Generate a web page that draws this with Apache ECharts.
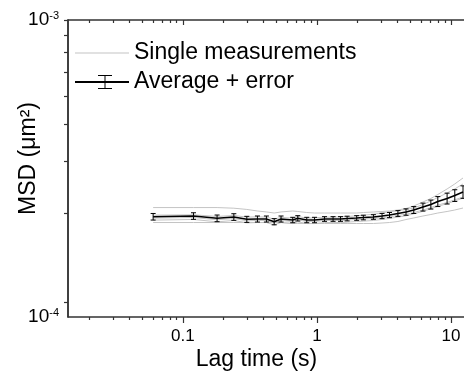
<!DOCTYPE html>
<html>
<head>
<meta charset="utf-8">
<script src="https://cdn.jsdelivr.net/npm/echarts@6/dist/echarts.min.js"></script>
<style>
  html, body { margin: 0; padding: 0; background: #fff; }
  #chart { width: 464px; height: 378px; }
</style>
</head>
<body>
<div id="chart"></div>
<script>
// lag times (s)
const lagTimes = [0.06, 0.12, 0.18, 0.24, 0.30, 0.36, 0.42, 0.48, 0.54, 0.66, 0.72, 0.84, 0.96,
  1.14, 1.32, 1.50, 1.68, 1.98, 2.22, 2.64, 3.06, 3.48, 4.02, 4.62, 5.28, 6.18, 7.08, 7.98,
  9.36, 10.68, 12.3]

// averaged MSD (um^2) and its error
const msdAvg = [1.946e-4, 1.957e-4, 1.922e-4, 1.942e-4, 1.907e-4, 1.912e-4, 1.912e-4, 1.872e-4,
  1.912e-4, 1.897e-4, 1.922e-4, 1.897e-4, 1.897e-4, 1.912e-4, 1.912e-4, 1.912e-4, 1.919e-4,
  1.927e-4, 1.934e-4, 1.942e-4, 1.957e-4, 1.972e-4, 1.996e-4, 2.019e-4, 2.051e-4, 2.099e-4,
  2.141e-4, 2.192e-4, 2.244e-4, 2.297e-4, 2.361e-4]
const msdErr = [5e-6, 5e-6, 5e-6, 5e-6, 4.5e-6, 4.5e-6, 4.5e-6, 4.5e-6, 4.5e-6, 4e-6, 4e-6, 4e-6,
  4e-6, 3.5e-6, 3.5e-6, 3.5e-6, 3.5e-6, 3.5e-6, 3.5e-6, 3.5e-6, 4e-6, 4e-6, 4.5e-6, 5e-6,
  5.5e-6, 6.5e-6, 7.5e-6, 8.5e-6, 9.5e-6, 1.05e-5, 1.15e-5]

// single measurements
const single1 = [2.09e-4, 2.09e-4, 2.09e-4, 2.08e-4, 2.06e-4, 2.035e-4, 2.02e-4, 2.003e-4, 2.02e-4,
  2.035e-4, 2.027e-4, 2.011e-4, 2.003e-4, 2.003e-4, 2.003e-4, 2.003e-4, 2.003e-4, 2.003e-4,
  2.011e-4, 2.019e-4, 2.027e-4, 2.035e-4, 2.051e-4, 2.075e-4, 2.116e-4, 2.183e-4, 2.244e-4,
  2.315e-4, 2.417e-4, 2.513e-4, 2.633e-4]
const single2 = [1.97e-4, 1.975e-4, 1.95e-4, 1.965e-4, 1.94e-4, 1.945e-4, 1.94e-4, 1.91e-4, 1.935e-4,
  1.925e-4, 1.95e-4, 1.925e-4, 1.93e-4, 1.94e-4, 1.94e-4, 1.945e-4, 1.95e-4, 1.96e-4, 1.97e-4,
  1.985e-4, 2.005e-4, 2.02e-4, 2.04e-4, 2.06e-4, 2.083e-4, 2.141e-4, 2.201e-4, 2.261e-4,
  2.343e-4, 2.417e-4, 2.513e-4]
const single3 = [1.925e-4, 1.935e-4, 1.9e-4, 1.92e-4, 1.885e-4, 1.89e-4, 1.89e-4, 1.85e-4, 1.89e-4,
  1.875e-4, 1.9e-4, 1.875e-4, 1.875e-4, 1.89e-4, 1.89e-4, 1.89e-4, 1.895e-4, 1.905e-4, 1.91e-4,
  1.92e-4, 1.93e-4, 1.945e-4, 1.965e-4, 1.985e-4, 2.01e-4, 2.05e-4, 2.09e-4, 2.13e-4, 2.175e-4,
  2.22e-4, 2.27e-4]
const single4 = [1.895e-4, 1.905e-4, 1.87e-4, 1.89e-4, 1.855e-4, 1.86e-4, 1.86e-4, 1.825e-4, 1.86e-4,
  1.845e-4, 1.87e-4, 1.845e-4, 1.845e-4, 1.86e-4, 1.86e-4, 1.86e-4, 1.865e-4, 1.875e-4, 1.88e-4,
  1.89e-4, 1.905e-4, 1.92e-4, 1.94e-4, 1.96e-4, 1.99e-4, 2.03e-4, 2.07e-4, 2.11e-4, 2.155e-4,
  2.2e-4, 2.25e-4]
const single5 = [1.86e-4, 1.86e-4, 1.86e-4, 1.86e-4, 1.86e-4, 1.86e-4, 1.86e-4, 1.86e-4, 1.86e-4,
  1.846e-4, 1.846e-4, 1.846e-4, 1.846e-4, 1.846e-4, 1.846e-4, 1.846e-4, 1.846e-4, 1.846e-4,
  1.846e-4, 1.846e-4, 1.853e-4, 1.86e-4, 1.875e-4, 1.904e-4, 1.927e-4, 1.957e-4, 1.98e-4,
  2.003e-4, 2.027e-4, 2.051e-4, 2.083e-4]

// ticks
const xMajorTicks = [0.1, 1, 10]
const xMinorTicks = [0.02, 0.03, 0.04, 0.05, 0.06, 0.07, 0.08, 0.09, 0.2, 0.3, 0.4, 0.5, 0.6,
  0.7, 0.8, 0.9, 2, 3, 4, 5, 6, 7, 8, 9, 20, 30, 40, 50, 60, 70, 80, 90]
const yTicks = [1e-4, 2e-4, 3e-4, 4e-4, 5e-4, 6e-4, 7e-4, 8e-4, 9e-4]
const xMin = 0.0139, xMax = 100
const yMin = 8.9e-5, yMax = 9.03e-4
const yLabelValues = [yMin, yMax]

const font = "'Liberation Sans', Arial, sans-serif"
const axisColor = '#333'
const grayColor = '#c4c4c4'

const chart = echarts.init(document.getElementById('chart'))

const singles = [single1, single2, single3, single4, single5]
const singleSeries = singles.map(s => ({
  name: 'Single measurements',
  type: 'line',
  symbol: 'none',
  silent: true,
  z: 1,
  lineStyle: { color: grayColor, width: 1 },
  itemStyle: { color: grayColor },
  data: lagTimes.map((t, i) => [t, s[i]])
}))

const baseX = (extra) => Object.assign({
  type: 'log',
  min: xMin,
  max: xMax,
  splitLine: { show: false },
  axisLabel: { show: false },
  axisLine: { show: false },
  axisTick: { show: false }
}, extra)

chart.setOption({
  backgroundColor: '#fff',
  animation: false,
  textStyle: { fontFamily: font },
  // plot runs past the right edge, like the cropped original
  grid: { left: 68, top: 20, width: 517, bottom: 61, outerBoundsMode: 'none', containLabel: false },
  legend: {
    left: 75,
    top: 40,
    padding: 0,
    orient: 'vertical',
    itemWidth: 54,
    itemHeight: 14,
    itemGap: 3,
    selectedMode: false,
    itemStyle: { borderWidth: 0 },
    textStyle: { fontFamily: font, fontSize: 23, color: '#000', lineHeight: 26 },
    data: [
      {
        name: 'Single measurements',
        icon: 'path://M0,0 M54,14 M0,6.5 L54,6.5 L54,7.5 L0,7.5 Z',
        itemStyle: { color: grayColor }
      },
      {
        name: 'Average + error',
        icon: 'path://M0,0 M54,14 M0,6 L54,6 L54,8 L0,8 Z M29.5,0.5 L30.5,0.5 L30.5,13.5 L29.5,13.5 Z M23,0 L37,0 L37,1 L23,1 Z M23,13 L37,13 L37,14 L23,14 Z',
        itemStyle: { color: '#000' }
      }
    ]
  },
  xAxis: [
    baseX({
      position: 'bottom',
      name: 'Lag time (s)',
      nameLocation: 'middle',
      nameGap: 31,
      nameMoveOverlap: false,
      nameTextStyle: { fontFamily: font, fontSize: 23, color: '#000', padding: [0, 140, 0, 0] },
      axisLine: { show: true, lineStyle: { color: axisColor, width: 1.5 } },
      axisTick: { show: true, inside: false, length: 6, customValues: xMajorTicks, lineStyle: { color: axisColor, width: 1.2 } },
      axisLabel: { show: true, customValues: xMajorTicks, margin: 11, fontFamily: font, fontSize: 17, color: '#000',
        formatter: v => String(v) }
    }),
    baseX({
      position: 'bottom',
      axisTick: { show: true, inside: false, length: 3, customValues: xMinorTicks, lineStyle: { color: axisColor, width: 1.2 } }
    }),
    baseX({
      position: 'top',
      axisLine: { show: true, lineStyle: { color: axisColor, width: 1.5 } },
      axisTick: { show: true, inside: true, length: 5, customValues: xMajorTicks, lineStyle: { color: axisColor, width: 1.2 } }
    }),
    baseX({
      position: 'top',
      axisTick: { show: true, inside: true, length: 3, customValues: xMinorTicks, lineStyle: { color: axisColor, width: 1.2 } }
    })
  ],
  yAxis: [{
    type: 'log',
    min: yMin,
    max: yMax,
    position: 'left',
    name: 'MSD (μm²)',
    nameLocation: 'middle',
    nameGap: 28,
    nameMoveOverlap: false,
    nameTextStyle: { fontFamily: font, fontSize: 23, color: '#000', padding: [0, 0, 0, 20] },
    splitLine: { show: false },
    axisLine: { show: true, lineStyle: { color: '#000', width: 1.5 } },
    axisTick: { show: true, inside: false, length: 4, customValues: yTicks, lineStyle: { color: axisColor, width: 1.2 } },
    axisLabel: {
      customValues: yLabelValues,
      margin: 9,
      fontFamily: font,
      fontSize: 19,
      color: '#000',
      formatter: v => '10{sup|' + Math.round(Math.log10(v)) + '}',
      rich: {
        sup: { fontFamily: font, fontSize: 11, color: '#000', verticalAlign: 'top', padding: [0, 0, 8, 0] }
      }
    }
  }],
  series: [
    ...singleSeries,
    {
      name: 'Average + error',
      type: 'line',
      symbol: 'none',
      z: 3,
      lineStyle: { color: '#000', width: 1.6 },
      itemStyle: { color: '#000' },
      data: lagTimes.map((t, i) => [t, msdAvg[i]])
    },
    {
      name: 'Average + error',
      type: 'custom',
      z: 4,
      itemStyle: { color: '#000' },
      data: lagTimes.map((t, i) => [t, msdAvg[i] - msdErr[i], msdAvg[i] + msdErr[i]]),
      renderItem: (params, api) => {
        const lo = api.coord([api.value(0), api.value(1)])
        const hi = api.coord([api.value(0), api.value(2)])
        const w = 2.5
        const style = { stroke: '#000', lineWidth: 1 }
        return {
          type: 'group',
          children: [
            { type: 'line', shape: { x1: lo[0], y1: lo[1], x2: hi[0], y2: hi[1] }, style },
            { type: 'line', shape: { x1: lo[0] - w, y1: lo[1], x2: lo[0] + w, y2: lo[1] }, style },
            { type: 'line', shape: { x1: hi[0] - w, y1: hi[1], x2: hi[0] + w, y2: hi[1] }, style }
          ]
        }
      }
    }
  ]
})
</script>
</body>
</html>
